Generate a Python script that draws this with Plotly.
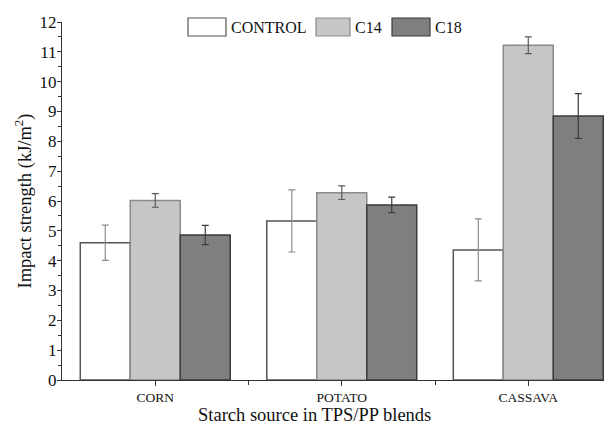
import plotly.graph_objects as go

# Impact strength of TPS/PP blends by starch source
categories = ["CORN", "POTATO", "CASSAVA"]
series_names = ["CONTROL", "C14", "C18"]
control_vals = [4.60, 5.33, 4.36]
control_err = [0.59, 1.04, 1.04]
c14_vals = [6.02, 6.28, 11.22]
c14_err = [0.23, 0.23, 0.28]
c18_vals = [4.86, 5.87, 8.85]
c18_err = [0.32, 0.26, 0.75]

W, H = 612, 427
L, R, T, B = 62, 8, 22, 47
FONT = "Liberation Serif, Times New Roman, serif"

fills = ["#ffffff", "#c6c6c6", "#7f7f7f"]
edges = ["#555555", "#8a8a8a", "#3a3a3a"]
errc = ["#8c8c8c", "#5a5a5a", "#3c3c3c"]

xs = list(range(len(categories)))
fig = go.Figure()
for name, vals, errs, fc, ec, erc in zip(
    series_names,
    [control_vals, c14_vals, c18_vals],
    [control_err, c14_err, c18_err],
    fills, edges, errc,
):
    fig.add_trace(go.Bar(
        x=xs, y=vals, name=name,
        marker=dict(color=fc, line=dict(color=ec, width=1.5)),
        error_y=dict(type="data", array=errs, visible=True,
                     color=erc, thickness=1.2, width=3.5),
        showlegend=False,
    ))

# legend drawn as framed swatches with text labels
pw, ph = W - L - R, H - T - B
def px_x(p):
    return (p - L) / pw
def px_y(p):
    return (H - B - p) / ph

swatch_x = [188, 316, 392]
swatch_w = [38, 34, 38]
shapes, annotations = [], []
for sx, sw, fc, ec, name in zip(swatch_x, swatch_w, fills, edges, series_names):
    shapes.append(dict(type="rect", xref="paper", yref="paper",
                       x0=px_x(sx), x1=px_x(sx + sw), y0=px_y(36), y1=px_y(18),
                       fillcolor=fc, line=dict(color=ec, width=1.2)))
    annotations.append(dict(xref="paper", yref="paper", x=px_x(sx + sw + 3), y=px_y(27),
                            text=name, showarrow=False, xanchor="left", yanchor="middle",
                            font=dict(family=FONT, size=16, color="#111111")))

# x-axis title, placed slightly left of the plot centre
annotations.append(dict(xref="paper", yref="paper", x=px_x(314), y=px_y(415),
                        text="Starch source in TPS/PP blends", showarrow=False,
                        xanchor="center", yanchor="middle",
                        font=dict(family=FONT, size=18.5, color="#111111")))

fig.update_layout(
    width=W, height=H,
    margin=dict(l=L, r=R, t=T, b=B),
    paper_bgcolor="white", plot_bgcolor="white",
    barmode="group", bargap=0.196, bargroupgap=0,
    font=dict(family=FONT, color="#111111"),
    shapes=shapes, annotations=annotations,
    xaxis=dict(
        range=[-0.5, 2.406], tickvals=xs, ticktext=categories,
        showline=True, linecolor="#333333", linewidth=1.2,
        ticks="outside", ticklen=5, tickcolor="#333333",
        minor=dict(tickvals=[0.5, 1.5], ticks="outside", ticklen=4, tickcolor="#333333"),
        showgrid=False, zeroline=False,
        tickfont=dict(family=FONT, size=13.5, color="#111111"),
    ),
    yaxis=dict(
        range=[0, 12], dtick=1, tick0=0,
        showline=True, linecolor="#333333", linewidth=1.2,
        ticks="outside", ticklen=4, tickcolor="#333333",
        ticklabelstandoff=-3,
        minor=dict(dtick=0.5, ticks="outside", ticklen=2.5, tickcolor="#333333"),
        showgrid=False, zeroline=False,
        tickfont=dict(family=FONT, size=17, color="#111111"),
        title=dict(text="Impact strength (kJ/m<sup>2</sup>)", standoff=3,
                   font=dict(family=FONT, size=18.5, color="#111111")),
    ),
)

fig.write_html("out.html")
